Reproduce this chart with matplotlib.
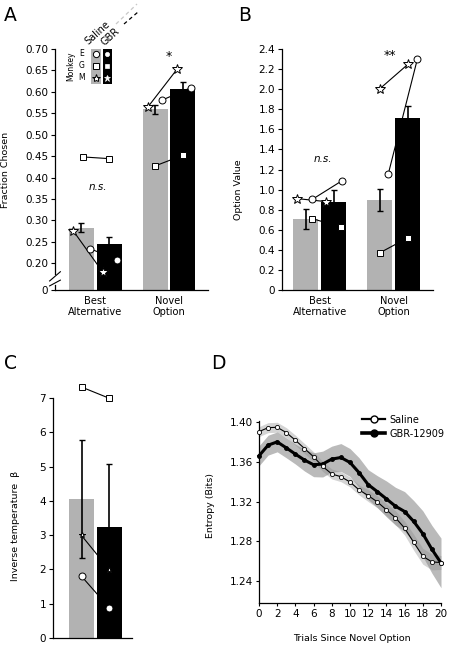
import numpy as np
import matplotlib
matplotlib.use('Agg')
import matplotlib.pyplot as plt
from matplotlib.patches import Rectangle
from matplotlib.lines import Line2D
from matplotlib.ticker import FuncFormatter

# ---- data ----
groups = ['Best\nAlternative', 'Novel\nOption']
monkeys = ['E', 'G', 'M']
monkey_markers = {'E': 'o', 'G': 's', 'M': '*'}

# panel A: fraction chosen (saline, GBR)
frac_saline = [0.283, 0.559]
frac_saline_err = [0.011, 0.010]
frac_gbr = [0.244, 0.607]
frac_gbr_err = [0.018, 0.017]
frac_monkey_saline = {'E': [0.234, 0.581], 'G': [0.448, 0.427], 'M': [0.275, 0.564]}
frac_monkey_gbr = {'E': [0.208, 0.610], 'G': [0.444, 0.452], 'M': [0.179, 0.653]}

# panel B: option value
val_saline = [0.705, 0.90]
val_saline_err = [0.10, 0.11]
val_gbr = [0.877, 1.717]
val_gbr_err = [0.115, 0.12]
val_monkey_saline = {'E': [0.903, 1.153], 'G': [0.71, 0.37], 'M': [0.91, 2.003]}
val_monkey_gbr = {'E': [1.09, 2.303], 'G': [0.627, 0.52], 'M': [0.88, 2.247]}

# panel C: inverse temperature
beta_saline = 4.05
beta_saline_err = 1.72
beta_gbr = 3.24
beta_gbr_err = 1.84
beta_monkey_saline = {'E': 1.80, 'G': 7.32, 'M': 2.99}
beta_monkey_gbr = {'E': 0.875, 'G': 6.99, 'M': 1.99}

# panel D: entropy vs trials
trials = np.arange(21)
ent_saline = [1.3903, 1.3943, 1.3947, 1.3893, 1.3817, 1.3733, 1.365, 1.3553, 1.3477,
              1.345, 1.3397, 1.3317, 1.326, 1.3197, 1.3117, 1.3037, 1.2933, 1.279,
              1.265, 1.2593, 1.2587]
ent_saline_err = [0.005, 0.005, 0.005, 0.005, 0.005, 0.005, 0.005, 0.005, 0.005, 0.005,
                  0.005, 0.005, 0.006, 0.006, 0.006, 0.007, 0.007, 0.008, 0.008, 0.008, 0.007]
ent_gbr = [1.366, 1.3767, 1.380, 1.374, 1.3677, 1.3617, 1.357, 1.3577, 1.3627, 1.3643,
           1.3593, 1.349, 1.337, 1.330, 1.3227, 1.3153, 1.310, 1.300, 1.2877, 1.272, 1.2583]
ent_gbr_err = [0.010, 0.010, 0.010, 0.010, 0.010, 0.011, 0.012, 0.013, 0.013, 0.014,
               0.014, 0.015, 0.015, 0.016, 0.018, 0.019, 0.020, 0.021, 0.023, 0.024, 0.025]

# ---- style / layout ----
GREY = '#b2b2b2'
W, H = 452, 648
TICK_FS = 7.5
LABEL_FS = 6.8
bar_off = 0.19
bar_w = 0.34

# per-panel horizontal jitter of monkey markers (saline, gbr) per group
jit_A = {'E': [(0.115, 0.10), (0.10, 0.11)], 'G': [(0.02, 0.0), (0.0, 0.0)], 'M': [(-0.11, -0.09), (-0.10, -0.08)]}
jit_B = {'E': [(0.09, 0.115), (0.115, 0.13)], 'G': [(0.09, 0.10), (0.0, 0.0)], 'M': [(-0.115, -0.10), (0.0, 0.0)]}

plt.rcParams['font.family'] = 'DejaVu Sans'
plt.rcParams['axes.linewidth'] = 0.9

fig = plt.figure(figsize=(W / 100, H / 100), dpi=100)


def px_axes(x0, y0, x1, y1):
    return fig.add_axes([x0 / W, 1 - y1 / H, (x1 - x0) / W, (y1 - y0) / H])


def style_axes(ax):
    for s in ['top', 'right']:
        ax.spines[s].set_visible(False)
    ax.tick_params(axis='y', direction='out', length=3, width=0.8, labelsize=TICK_FS, pad=2)
    ax.tick_params(axis='x', direction='out', length=0, labelsize=LABEL_FS + 0.3, pad=4)


def draw_monkeys(ax, xs, xg, vs, vg, marker, ms):
    ax.plot([xs, xg], [vs, vg], color='k', lw=0.8, zorder=3, clip_on=False)
    ax.plot([xs, xg], [vs, vg], linestyle='none', marker=marker, ms=ms, mfc='white',
            mec='k', mew=0.7, zorder=4, clip_on=False)


def bar_panel(ax, sal, sal_err, gbr, gbr_err, m_sal, m_gbr, jit):
    x = np.arange(len(groups))
    ax.bar(x - bar_off, sal, bar_w, color=GREY, zorder=1)
    ax.bar(x + bar_off, gbr, bar_w, color='k', zorder=1)
    ax.errorbar(x - bar_off, sal, yerr=sal_err, fmt='none', ecolor='k', elinewidth=1.2,
                capsize=2.2, capthick=1.0, zorder=2)
    ax.errorbar(x + bar_off, gbr, yerr=gbr_err, fmt='none', ecolor='k', elinewidth=1.2,
                capsize=2.2, capthick=1.0, zorder=2)
    for m in monkeys:
        ms = 7 if m == 'M' else 5
        for i in range(len(groups)):
            js, jg = jit[m][i]
            draw_monkeys(ax, x[i] - bar_off + js, x[i] + bar_off + jg,
                         m_sal[m][i], m_gbr[m][i], monkey_markers[m], ms)
    ax.set_xticks(x)
    ax.set_xticklabels(groups, linespacing=1.15)


# ---- panel A (broken axis) ----
brk, k = 0.17, 0.192


def fwd(y):
    y = np.asarray(y, dtype=float)
    return np.where(y >= brk, y, brk - (brk - y) * k)


def inv(y):
    y = np.asarray(y, dtype=float)
    return np.where(y >= brk, y, brk - (brk - y) / k)


axA = px_axes(55, 49, 208, 290)
axA.set_yscale('function', functions=(fwd, inv))
bar_panel(axA, frac_saline, frac_saline_err, frac_gbr, frac_gbr_err,
          frac_monkey_saline, frac_monkey_gbr, jit_A)
axA.set_xlim(-0.55, 1.53)
axA.set_ylim(0, 0.70)
a_ticks = [0, 0.20, 0.25, 0.30, 0.35, 0.40, 0.45, 0.50, 0.55, 0.60, 0.65, 0.70]
axA.set_yticks(a_ticks)
axA.set_yticklabels(['0'] + [f'{t:.2f}' for t in a_ticks[1:]])
style_axes(axA)
axA.spines['left'].set_bounds(0.175, 0.70)
ytr = axA.get_yaxis_transform()
axA.plot([0, 0], [0, 0.06], color='k', lw=0.9, transform=ytr, clip_on=False)
for yb in (0.085, 0.145):
    axA.plot([-0.035, 0.035], [yb - 0.035, yb + 0.035], color='k', lw=0.8,
             transform=ytr, clip_on=False)
axA.set_ylabel('Fraction Chosen', fontsize=LABEL_FS)
axA.yaxis.set_label_coords(-0.294, 0.5)
axA.text(0.035, 0.378, 'n.s.', style='italic', fontsize=7.5, ha='center', va='center')
axA.text(1.0, 0.683, '*', fontsize=9, ha='center', va='center')

# ---- panel B ----
axB = px_axes(282, 49, 433, 290)
bar_panel(axB, val_saline, val_saline_err, val_gbr, val_gbr_err,
          val_monkey_saline, val_monkey_gbr, jit_B)
axB.set_xlim(-0.51, 1.53)
axB.set_ylim(0, 2.4)
axB.set_yticks(np.arange(0, 2.41, 0.2))
axB.yaxis.set_major_formatter(FuncFormatter(lambda v, p: '0' if abs(v) < 1e-9 else f'{v:.1f}'))
style_axes(axB)
axB.set_ylabel('Option Value', fontsize=LABEL_FS)
axB.yaxis.set_label_coords(-0.258, 0.415)
axB.text(0.04, 1.30, 'n.s.', style='italic', fontsize=7.5, ha='center', va='center')
axB.text(0.95, 2.34, '**', fontsize=9, ha='center', va='center')

# ---- panel C ----
axC = px_axes(53, 398, 132, 638)
axC.bar([-bar_off], [beta_saline], bar_w, color=GREY, zorder=1)
axC.bar([bar_off], [beta_gbr], bar_w, color='k', zorder=1)
axC.errorbar([-bar_off], [beta_saline], yerr=[beta_saline_err], fmt='none', ecolor='k',
             elinewidth=1.2, capsize=2.2, capthick=1.0, zorder=2)
axC.errorbar([bar_off], [beta_gbr], yerr=[beta_gbr_err], fmt='none', ecolor='k',
             elinewidth=1.2, capsize=2.2, capthick=1.0, zorder=2)
for m in monkeys:
    ms = 4 if m == 'M' else 5
    draw_monkeys(axC, -bar_off, bar_off, beta_monkey_saline[m], beta_monkey_gbr[m],
                 monkey_markers[m], ms)
axC.set_xlim(-0.578, 0.497)
axC.set_ylim(0, 7)
axC.set_xticks([])
axC.set_yticks(range(8))
style_axes(axC)
axC.set_ylabel('Inverse temperature  \u03b2', fontsize=LABEL_FS)
axC.yaxis.set_label_coords(-0.418, 0.467)

# ---- panel D ----
axD = px_axes(259, 421, 441, 603)
s_lo = np.array(ent_saline) - np.array(ent_saline_err)
s_hi = np.array(ent_saline) + np.array(ent_saline_err)
g_lo = np.array(ent_gbr) - np.array(ent_gbr_err)
g_hi = np.array(ent_gbr) + np.array(ent_gbr_err)
axD.fill_between(trials, s_lo, s_hi, color='#d4d4d4', lw=0, zorder=1)
axD.fill_between(trials, g_lo, g_hi, color='#8c8c8c', alpha=0.6, lw=0, zorder=2)
axD.plot(trials, ent_saline, color='k', lw=0.8, marker='o', ms=3, mfc='white', mec='k',
         mew=0.6, zorder=4, clip_on=False)
axD.plot(trials, ent_gbr, color='k', lw=2.2, marker='o', ms=2.5, mfc='k', mec='k',
         zorder=3, clip_on=False)
axD.set_xlim(0, 20)
axD.set_ylim(1.218, 1.401)
axD.set_xticks(range(0, 21, 2))
axD.set_yticks([1.24, 1.28, 1.32, 1.36, 1.40])
axD.yaxis.set_major_formatter(FuncFormatter(lambda v, p: f'{v:.2f}'))
for s in ['top', 'right']:
    axD.spines[s].set_visible(False)
axD.tick_params(axis='both', direction='out', length=2.5, width=0.8, labelsize=TICK_FS, pad=2)
axD.set_ylabel('Entropy (Bits)', fontsize=LABEL_FS)
axD.yaxis.set_label_coords(-0.242, 0.533)
axD.set_xlabel('Trials Since Novel Option', fontsize=LABEL_FS)
axD.xaxis.set_label_coords(0.511, -0.17)
handles = [Line2D([], [], color='k', lw=1.6, marker='o', ms=5, mfc='white', mec='k', mew=1.0),
           Line2D([], [], color='k', lw=2.6, marker='o', ms=5, mfc='k', mec='k')]
axD.legend(handles, ['Saline', 'GBR-12909'], loc='upper right', bbox_to_anchor=(1.02, 1.035),
           frameon=False, fontsize=7, handlelength=2.3, handletextpad=0.5, labelspacing=0.4,
           borderpad=0, borderaxespad=0)

# ---- legend inset in panel A (pixel coordinates) ----
ov = fig.add_axes([0, 0, 1, 1])
ov.set_xlim(0, W)
ov.set_ylim(H, 0)
ov.axis('off')
ov.patch.set_visible(False)
ov.add_patch(Rectangle((91, 49), 10, 35, color=GREY, lw=0))
ov.add_patch(Rectangle((103, 49), 9, 35, color='k', lw=0))
for m, yy in zip(monkeys, [54, 66, 78]):
    ms = 6 if m == 'M' else 4.5
    ov.plot(96, yy, marker=monkey_markers[m], ms=ms, mfc='white', mec='k', mew=0.7)
    ov.plot(107.5, yy, marker=monkey_markers[m], ms=ms - 1.5, mfc='white', mec='white', mew=0.5)
    ov.text(82, yy, m, fontsize=5.5, ha='center', va='center')
ov.text(71, 66, 'Monkey', fontsize=5.5, rotation=90, ha='center', va='center')
ov.text(90, 46, 'Saline', fontsize=7, rotation=42, ha='left', va='bottom', rotation_mode='anchor')
ov.text(106, 47, 'GBR', fontsize=7, rotation=42, ha='left', va='bottom', rotation_mode='anchor')
ov.plot([116, 137], [24, 4], color='#c8c8c8', lw=0.9, ls=(0, (3, 2.5)))
ov.plot([124, 138], [24, 12], color='k', lw=0.9, ls=(0, (3, 2.5)))

# panel letters
for lab, (xp, yp) in {'A': (4, 6), 'B': (238, 6), 'C': (4, 354), 'D': (211, 354)}.items():
    fig.text(xp / W, 1 - yp / H, lab, fontsize=13.5, ha='left', va='top')

fig.savefig('out.png', dpi=100)
